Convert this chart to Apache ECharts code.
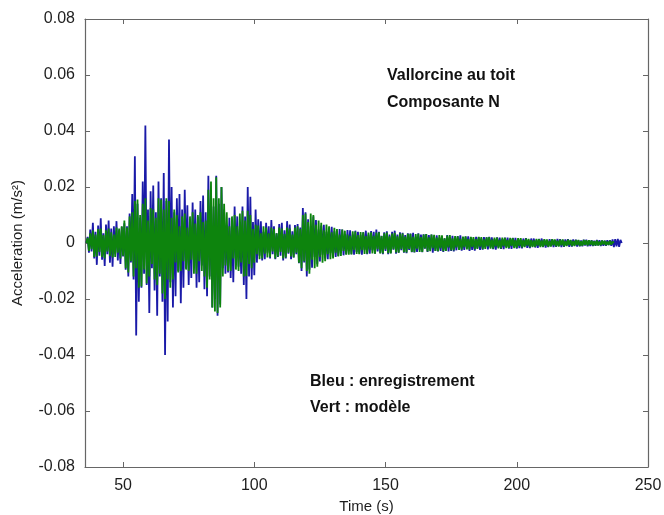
<!DOCTYPE html>
<html>
<head>
<meta charset="utf-8">
<script src="https://cdn.jsdelivr.net/npm/echarts@6/dist/echarts.min.js"></script>
<style>
  html, body { margin: 0; padding: 0; background: #fff; }
  #chart { width: 664px; height: 515px; }
</style>
</head>
<body>
<div id="chart"></div>
<script>
// Accelerogram, Vallorcine station on the roof, N component.
// Samples every 0.5 s starting at 36 s, amplitudes stored in 1e-4 m/s².
const timeStart = 36;
const sampleStep = 0.5;
const unitScale = 1e-4;

// Recorded signal (blue)
const blueRecord = [
  0, 22, -35, 48, -30, 72, -55, 40, -78, 62,
  -45, 88, -60, 35, -82, 66, -40, 80, -70, 52,
  -85, 60, -38, 78, -62, 45, -75, 58, -48, 70,
  -95, 60, -120, 105, -70, 175, -130, 310, -330, 140,
  -210, 90, -160, 220, -110, 420, -150, 120, -250, 185,
  -90, 205, -170, 110, -260, 220, -120, 160, -210, 250,
  -400, 150, -280, 370, -140, 200, -230, 110, -190, 160,
  -100, 175, -215, 120, -160, 190, -90, 135, -150, 80,
  -125, 145, -70, 120, -160, 95, -140, 150, -80, 170,
  -165, 110, -190, 240, -120, 185, -230, 130, -200, 240,
  -260, 140, -220, 200, -90, 120, -110, 65, -105, 90,
  -125, 70, -140, 130, -60, 95, -85, 50, -110, 130,
  -150, 95, -200, 200, -120, 165, -130, 75, -115, 120,
  -70, 85, -45, 78, -62, 40, -58, 72, -35, 60,
  -55, 82, -40, 60, -58, 35, -50, 68, -45, 72,
  -62, 45, -55, 78, -38, 66, -58, 42, -52, 64,
  -40, 68, -72, 55, -100, 125, -70, 110, -120, 85,
  -95, 60, -88, 95, -50, 82, -76, 48, -66, 62,
  -42, 65, -55, 40, -58, 55, -36, 58, -48, 42,
  -50, 35, -46, 50, -30, 48, -44, 32, -40, 46,
  -28, 45, -40, 30, -42, 44, -32, 40, -38, 28,
  -42, 38, -25, 44, -40, 30, -38, 43, -26, 40,
  -38, 48, -30, 40, -36, 26, -40, 38, -28, 42,
  -40, 30, -36, 40, -24, 44, -38, 30, -35, 38,
  -26, 36, -35, 28, -36, 35, -25, 34, -33, 36,
  -34, 22, -32, 35, -24, 30, -33, 31, -20, 32,
  -32, 28, -20, 30, -35, 22, -28, 27, -30, 18,
  -28, 24, -32, 17, -27, 28, -30, 20, -28, 26,
  -30, 18, -26, 25, -20, 27, -27, 16, -25, 23,
  -18, 24, -28, 20, -25, 15, -27, 22, -18, 21,
  -25, 16, -24, 21, -15, 20, -23, 22, -16, 20,
  -22, 14, -24, 20, -16, 19, -21, 14, -22, 19,
  -14, 19, -20, 15, -21, 18, -13, 18, -20, 14,
  -18, 12, -19, 16, -12, 17, -17, 11, -18, 16,
  -12, 16, -16, 11, -17, 15, -11, 16, -15, 12,
  -16, 10, -15, 14, -11, 14, -15, 10, -14, 15,
  -10, 14, -15, 11, -14, 13, -9, 14, -14, 10,
  -13, 13, -9, 12, -13, 10, -12, 9, -12, 12,
  -9, 12, -12, 8, -11, 10, -11, 8, -10, 11,
  -8, 10, -11, 9, -10, 8, -10, 10, -7, 10,
  -10, 13, -15, 14, -12, 15, -14, 11, 0
];

// Simulated signal (green)
const greenModel = [
  0, 18, -28, 35, -22, 45, -50, 30, -48, 50,
  -32, 52, -50, 28, -55, 45, -30, 52, -46, 38,
  -52, 30, -50, 55, -35, 52, -55, 60, -45, 80,
  -90, 55, -105, 95, -65, 110, -120, 150, -90, 155,
  -160, 100, -155, 140, -95, 160, -145, 80, -120, 125,
  -75, 120, -130, 90, -150, 160, -110, 155, -180, 120,
  -200, 160, -130, 150, -160, 90, -130, 120, -70, 100,
  -105, 60, -100, 95, -65, 105, -95, 55, -100, 95,
  -60, 110, -110, 70, -110, 100, -65, 110, -100, 75,
  -120, 80, -160, 190, -130, 220, -230, 160, -245, 235,
  -250, 160, -230, 200, -120, 140, -80, 110, -100, 60,
  -100, 95, -55, 100, -95, 60, -100, 105, -70, 115,
  -120, 80, -118, 115, -75, 100, -90, 50, -70, 65,
  -40, 62, -58, 35, -55, 60, -38, 55, -52, 35,
  -50, 55, -30, 50, -55, 35, -48, 55, -32, 52,
  -55, 32, -52, 55, -35, 52, -48, 30, -52, 55,
  -35, 60, -70, 50, -90, 100, -65, 105, -100, 75,
  -110, 105, -60, 100, -90, 65, -85, 80, -50, 72,
  -70, 45, -65, 66, -40, 60, -58, 38, -55, 54,
  -35, 50, -48, 30, -46, 48, -28, 44, -42, 30,
  -42, 26, -41, 42, -25, 41, -39, 28, -40, 39,
  -26, 38, -39, 25, -38, 37, -24, 38, -37, 26,
  -38, 37, -22, 38, -37, 25, -37, 35, -23, 37,
  -36, 24, -37, 34, -22, 36, -34, 24, -35, 34,
  -22, 34, -33, 23, -34, 33, -21, 33, -32, 22,
  -33, 32, -20, 33, -32, 21, -32, 30, -19, 32,
  -30, 20, -29, 30, -18, 29, -28, 19, -29, 28,
  -18, 27, -29, 17, -28, 26, -16, 28, -26, 17,
  -26, 25, -16, 24, -25, 15, -24, 23, -15, 24,
  -23, 14, -24, 22, -14, 21, -22, 14, -21, 22,
  -13, 21, -22, 13, -21, 20, -12, 21, -20, 12,
  -20, 19, -12, 19, -19, 11, -19, 19, -11, 18,
  -18, 11, -17, 18, -10, 17, -18, 10, -17, 17,
  -10, 17, -16, 10, -15, 16, -9, 15, -15, 10,
  -15, 9, -14, 15, -9, 14, -15, 9, -14, 14,
  -9, 13, -14, 8, -13, 14, -8, 13, -12, 8,
  -13, 12, -8, 13, -12, 7, -11, 12, -7, 11,
  -11, 7, -11, 11, -7, 11, -11, 6, -10, 11,
  -6, 10, -9, 10, -6, 9, -9, 6, -9, 9,
  -9, 5, -8, 9, -5, 8, -8, 5, -7, 8,
  -6, 5, 0
];

const timeTicks = [50, 100, 150, 200, 250];

const titleLines = ['Vallorcine au toit', 'Composante N'];
const legendLines = ['Bleu : enregistrement', 'Vert : modèle'];

const toSeries = arr => arr.map((v, i) => [timeStart + i * sampleStep, v * unitScale]);

const FONT = '"Liberation Sans", Arial, sans-serif';
const frameColor = '#666';
const textColor = '#1e1e1e';

const chart = echarts.init(document.getElementById('chart'), null, { renderer: 'canvas' });

const baseX = {
  type: 'value', min: 35.5, max: 250,
  axisLine: { show: true, onZero: false, lineStyle: { color: frameColor, width: 1.2 } },
  axisTick: { show: true, inside: true, length: 5, customValues: timeTicks, lineStyle: { color: frameColor } },
  splitLine: { show: false }
};
const baseY = {
  type: 'value', min: -0.08, max: 0.08, interval: 0.02,
  axisLine: { show: true, onZero: false, lineStyle: { color: frameColor, width: 1.2 } },
  axisTick: { show: true, inside: true, length: 5, lineStyle: { color: frameColor } },
  splitLine: { show: false }
};

chart.setOption({
  animation: false,
  backgroundColor: '#fff',
  grid: { left: 85, right: 16, top: 19, bottom: 48, containLabel: false, outerBoundsMode: 'none' },
  xAxis: [
    Object.assign({}, baseX, {
      position: 'bottom',
      name: 'Time (s)', nameLocation: 'middle', nameGap: 32,
      nameTextStyle: { fontFamily: FONT, fontSize: 15, color: textColor },
      axisLabel: { show: true, customValues: timeTicks, margin: 11, fontFamily: FONT, fontSize: 16, color: textColor }
    }),
    Object.assign({}, baseX, { position: 'top', axisLabel: { show: false } })
  ],
  yAxis: [
    Object.assign({}, baseY, {
      position: 'left',
      name: 'Acceleration (m/s²)', nameLocation: 'middle', nameGap: 60, nameRotate: 90,
      nameTextStyle: { fontFamily: FONT, fontSize: 15, color: textColor },
      axisLabel: {
        show: true, margin: 10, fontFamily: FONT, fontSize: 16, color: textColor,
        formatter: v => (Math.abs(v) < 1e-9 ? '0' : v.toFixed(2))
      }
    }),
    Object.assign({}, baseY, { position: 'right', axisLabel: { show: false } })
  ],
  series: [
    {
      name: 'enregistrement', type: 'line', xAxisIndex: 0, yAxisIndex: 0,
      data: toSeries(blueRecord), showSymbol: false, sampling: null,
      lineStyle: { color: '#1a1aa8', width: 1.8 }, z: 2
    },
    {
      name: 'modèle', type: 'line', xAxisIndex: 0, yAxisIndex: 0,
      data: toSeries(greenModel), showSymbol: false, sampling: null,
      lineStyle: { color: '#0d840d', width: 1.8 }, z: 3
    }
  ],
  graphic: [
    {
      type: 'text', left: 387, top: 62,
      style: { text: titleLines.join('\n'), lineHeight: 27, font: 'bold 16px ' + FONT, fill: '#111' }
    },
    {
      type: 'text', left: 310, top: 369,
      style: { text: legendLines.join('\n'), lineHeight: 26, font: 'bold 16px ' + FONT, fill: '#111' }
    }
  ]
});
</script>
</body>
</html>
